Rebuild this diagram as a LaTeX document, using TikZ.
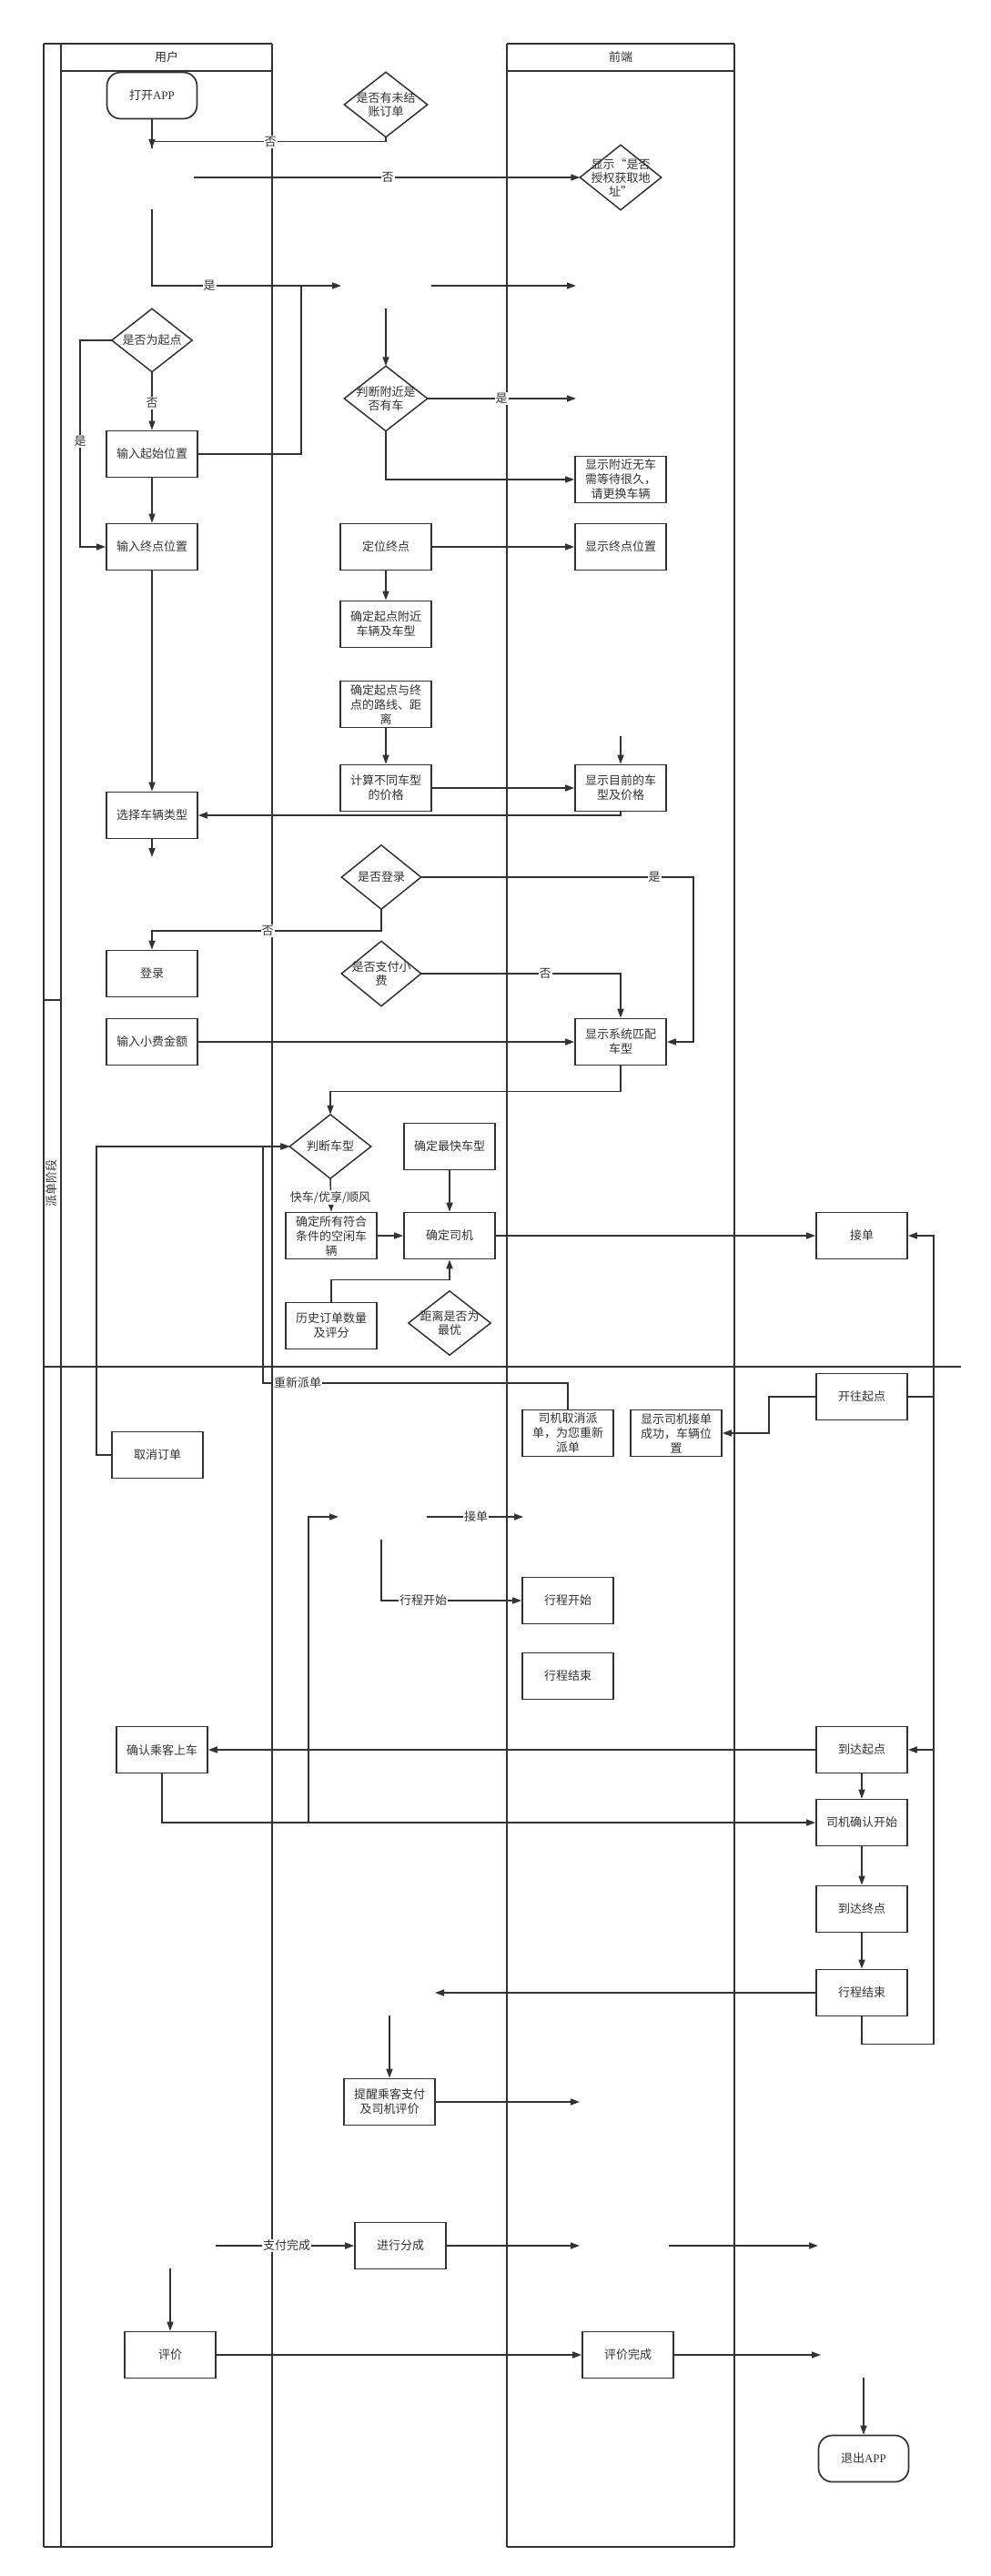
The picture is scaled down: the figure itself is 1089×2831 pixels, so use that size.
\documentclass[tikz,border=0pt]{standalone}
\usepackage{fontspec}
\newfontfamily\cjk{Noto Sans CJK SC}
\newfontfamily\lserif{Liberation Serif}
\usetikzlibrary{arrows.meta}
\definecolor{ink}{HTML}{333333}
\begin{document}
\begin{tikzpicture}[x=1pt,y=-1pt,
  every node/.style={font=\cjk\fontsize{13}{16}\selectfont, text=ink},
  box/.style={draw=ink, line width=1.7pt, minimum width=100pt, minimum height=51pt, inner sep=0pt, align=center},
  term/.style={box, rounded corners=15pt, minimum width=99pt},
  dia/.style={inner sep=0pt, align=center, font=\cjk\fontsize{13}{15}\selectfont},
  lbl/.style={fill=white, inner sep=1pt},
  ln/.style={draw=ink, line width=1.5pt},
  arr/.style={ln, -{Triangle[length=10pt,width=7pt]}},
  pool/.style={draw=ink, line width=1.6pt},
  lane/.style={draw=ink, line width=1.3pt}
]
\fill[white] (0,0) rectangle (1089,2831);
\useasboundingbox (0,0) rectangle (1089,2831);

% pools and lanes
\draw[lane] (48,48) -- (48,2799);
\draw[lane] (67,48) -- (67,2799);
\draw[lane] (299,48) -- (299,2799);
\draw[pool] (48,48) -- (299,48);
\draw[pool] (48,2799) -- (299,2799);
\draw[pool] (67,78) -- (299,78);
\draw[pool] (48,1099) -- (67,1099);
\draw[pool] (48,1502) -- (1056,1502);
\draw[lane] (557,48) -- (557,2799);
\draw[lane] (807,48) -- (807,2799);
\draw[pool] (557,48) -- (807,48);
\draw[pool] (557,78) -- (807,78);
\draw[pool] (557,2799) -- (807,2799);
\node (hu) at (183,63) {用户};
\node (hf) at (682,63) {前端};
\node[rotate=90] (ph) at (57,1300) {派单阶段};

% nodes
\node[term] (start) at (167,105) {打开{\lserif APP}};
\node[box] (startpos) at (167,499) {输入起始位置};
\node[box] (endpos) at (167,601) {输入终点位置};
\node[box] (choose) at (167,896) {选择车辆类型};
\node[box] (login) at (167,1070) {登录};
\node[box] (tip) at (167,1145) {输入小费金额};
\node[box] (cancel) at (173,1599) {取消订单};
\node[box] (confirm) at (178,1923) {确认乘客上车};
\node[box] (rate) at (187,2588) {评价};
\node[box] (locate) at (424,601) {定位终点};
\node[box] (nearby) at (424,686) {确定起点附近\\车辆及车型};
\node[box] (route) at (424,774) {确定起点与终\\点的路线、距\\离};
\node[box] (price) at (424,866) {计算不同车型\\的价格};
\node[box] (all) at (364,1358) {确定所有符合\\条件的空闲车\\辆};
\node[box] (hist) at (364,1457) {历史订单数量\\及评分};
\node[box] (fast) at (494,1260) {确定最快车型};
\node[box] (driver) at (494,1358) {确定司机};
\node[box] (remind) at (428,2310) {提醒乘客支付\\及司机评价};
\node[box] (split) at (440,2468) {进行分成};
\node[box] (nocar) at (682,527) {显示附近无车\\需等待很久，\\请更换车辆};
\node[box] (showend) at (682,601) {显示终点位置};
\node[box] (showprice) at (682,866) {显示目前的车\\型及价格};
\node[box] (match) at (682,1145) {显示系统匹配\\车型};
\node[box] (redis) at (624,1575) {司机取消派\\单，为您重新\\派单};
\node[box] (success) at (743,1575) {显示司机接单\\成功，车辆位\\置};
\node[box] (xcstart) at (624,1759) {行程开始};
\node[box] (xcend) at (624,1842) {行程结束};
\node[box] (rated) at (690,2588) {评价完成};
\node[box] (accept) at (947,1358) {接单};
\node[box] (goto) at (947,1535) {开往起点};
\node[box] (arrive) at (947,1923) {到达起点};
\node[box] (dstart) at (947,2003) {司机确认开始};
\node[box] (reach) at (947,2098) {到达终点};
\node[box] (tend) at (947,2190) {行程结束};
\node[term] (exit) at (949,2702) {退出{\lserif APP}};

% diamonds
\node[dia, minimum width=91pt, minimum height=71pt] (d1) at (424,115) {是否有未结\\账订单};
\node[dia, minimum width=89pt, minimum height=71pt] (d2) at (682,195) {显示“是否\\授权获取地\\址”};
\node[dia, minimum width=91pt, minimum height=71pt] (d3) at (424,438) {判断附近是\\否有车};
\node[dia, minimum width=88pt, minimum height=69pt] (d4) at (167,374) {是否为起点};
\node[dia, minimum width=87pt, minimum height=70pt] (d5) at (419,964) {是否登录};
\node[dia, minimum width=87pt, minimum height=71pt] (d6) at (419,1070) {是否支付小\\费};
\node[dia, minimum width=89pt, minimum height=70pt] (d7) at (363,1260) {判断车型};
\node[dia, minimum width=90pt, minimum height=70pt] (d8) at (494,1454) {距离是否为\\最优};
\foreach \n in {d1,d2,d3,d4,d5,d6,d7,d8}
  \draw[draw=ink, line width=1.5pt] (\n.north) -- (\n.east) -- (\n.south) -- (\n.west) -- cycle;

% free ends and joints
\coordinate (c1n) at (167,163);
\coordinate (c1e) at (213,195);
\coordinate (c1s) at (167,230);
\coordinate (c3w) at (375,314);
\coordinate (c3e) at (474,314);
\coordinate (c3s) at (424,339);
\coordinate (c4) at (633,314);
\coordinate (c5) at (633,438);
\coordinate (c6) at (682,809);
\coordinate (c7) at (167,942);
\coordinate (c8w) at (372,1667);
\coordinate (c8e) at (469,1667);
\coordinate (c8s) at (419,1692);
\coordinate (c9) at (575,1667);
\coordinate (c10) at (478,2190);
\coordinate (c11) at (428,2215);
\coordinate (c12) at (637,2310);
\coordinate (c13) at (237,2468);
\coordinate (c14) at (637,2468);
\coordinate (c15w) at (735,2468);
\coordinate (c15e) at (899,2468);
\coordinate (c16) at (187,2493);
\coordinate (c17) at (902,2588);
\coordinate (c18) at (949,2613);
\coordinate (j1) at (331,314);
\coordinate (j2) at (762,964);
\coordinate (j3) at (289,1520);
\coordinate (j4) at (1026,1535);
\coordinate (j5) at (339,2003);
\coordinate (j6) at (106,1599);
\coordinate (j7) at (88,374);
\coordinate (j8) at (845,1535);

% connectors
\draw[arr] (start) -- (c1n);
\draw[ln] (d1.south) -- ++(0,5) -| (c1n);
\draw[arr] (c1e) -- (d2.west);
\draw[arr] (c1s) |- (c3w);
\draw[arr] (c3e) -- (c4);
\draw[ln] (startpos.east) -| (j1);
\draw[arr] (c3s) -- (d3.north);
\draw[arr] (d3.east) -- (c5);
\draw[arr] (d3.south) |- (nocar.west);
\draw[arr] (d4.south) -- (startpos.north);
\draw[arr] (d4.west) -- (j7) |- (endpos.west);
\draw[arr] (startpos) -- (endpos);
\draw[arr] (locate) -- (showend);
\draw[arr] (locate) -- (nearby);
\draw[arr] (route) -- (price);
\draw[arr] (price) -- (showprice);
\draw[arr] (c6) -- (showprice.north);
\draw[arr] (showprice.south) |- (choose.east);
\draw[arr] (endpos) -- (choose);
\draw[arr] (choose) -- (c7);
\draw[arr] (d5.east) -- (j2) |- (match.east);
\draw[arr] (d5.south) -- ++(0,24) -| (login.north);
\draw[arr] (d6.east) -| (match.north);
\draw[arr] (tip) -- (match);
\draw[arr] (match.south) -- ++(0,28) -| (d7.north);
\draw[arr] (cancel.west) -- (j6) |- (d7.west);
\draw[arr] (redis.north) |- (j3) |- (d7.west);
\draw[arr] (fast) -- (driver);
\draw[arr] (d7.south) -- (all.north);
\draw[arr] (all) -- (driver);
\draw[arr] (hist.north) -- ++(0,-24) -| (driver.south);
\draw[arr] (driver) -- (accept);
\draw[arr] (goto.east) -- (j4) |- (accept.east);
\draw[arr] (goto.west) -- (j8) |- (success.east);
\draw[arr] (j4) |- (arrive.east);
\draw[ln] (tend.south) -- ++(0,30) -| (j4);
\draw[arr] (c8e) -- (c9);
\draw[arr] (c8s) |- (xcstart.west);
\draw[arr] (arrive) -- (confirm);
\draw[arr] (confirm.south) |- (dstart.west);
\draw[arr] (j5) |- (c8w);
\draw[arr] (arrive) -- (dstart);
\draw[arr] (dstart) -- (reach);
\draw[arr] (reach) -- (tend);
\draw[arr] (tend.west) -- (c10);
\draw[arr] (c11) -- (remind.north);
\draw[arr] (remind.east) -- (c12);
\draw[arr] (c13) -- (split.west);
\draw[arr] (split.east) -- (c14);
\draw[arr] (c15w) -- (c15e);
\draw[arr] (c16) -- (rate.north);
\draw[arr] (rate) -- (rated);
\draw[arr] (rated.east) -- (c17);
\draw[arr] (c18) -- (exit.north);

% labels
\node[lbl] (l1) at (297,156) {否};
\node[lbl] (l2) at (426,195) {否};
\node[lbl] (l3) at (230,314) {是};
\node[lbl] (l4) at (551,438) {是};
\node[lbl] (l5) at (167,443) {否};
\node[lbl] (l6) at (88,485) {是};
\node[lbl] (l7) at (719,964) {是};
\node[lbl] (l8) at (294,1023) {否};
\node[lbl] (l9) at (599,1070) {否};
\node[lbl] (l10) at (363,1316) {快车/优享/顺风};
\node[lbl] (l11) at (327,1520) {重新派单};
\node[lbl] (l12) at (523,1667) {接单};
\node[lbl] (l13) at (465,1759) {行程开始};
\node[lbl] (l14) at (315,2468) {支付完成};
\end{tikzpicture}
\end{document}
